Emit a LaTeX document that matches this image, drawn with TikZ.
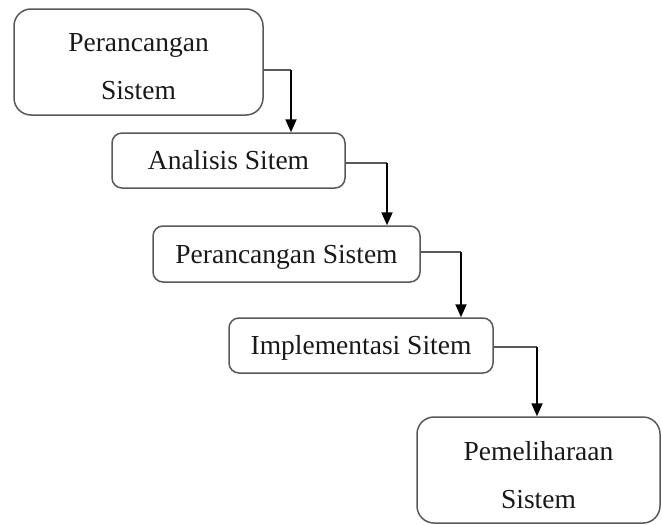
\documentclass[tikz,border=0pt]{standalone}
\usepackage{fontspec}
\setmainfont{Liberation Serif}
\usetikzlibrary{arrows.meta}
\begin{document}
\begin{tikzpicture}[x=1pt,y=-1pt,
  txt/.style={font=\fontsize{27.5}{48}\selectfont, text=black!90, align=center, inner sep=0pt},
  box/.style={draw=black!65, line width=1.5pt, rounded corners=10pt, txt,
    text height=18pt, text depth=0pt},
  bigbox/.style={draw=black!65, line width=1.5pt, rounded corners=17pt},
  lab/.style={txt, yshift=-5pt},
  hl/.style={draw=black!65, line width=1.3pt},
  vl/.style={draw=black, line width=2pt, -{Triangle[width=11pt,length=13pt]}}]
\useasboundingbox (0,0) rectangle (662,525);
\node[bigbox, minimum width=249pt, minimum height=106pt,
  label={[lab]center:Perancangan\\Sistem}] (b1) at (138.5,62) {};
\node[box, minimum width=233pt, minimum height=55pt] (b2) at (228.5,160.5) {Analisis Sitem};
\node[box, minimum width=267pt, minimum height=56pt] (b3) at (286.5,254) {Perancangan Sistem};
\node[box, minimum width=264pt, minimum height=55pt] (b4) at (361,345.5) {Implementasi Sitem};
\node[bigbox, minimum width=243pt, minimum height=106pt,
  label={[lab]center:Pemeliharaan\\Sistem}] (b5) at (538.5,470) {};
\coordinate (c1) at (291,70);
\coordinate (c2) at (387,163);
\coordinate (c3) at (461,252);
\coordinate (c4) at (537,347);
\draw[hl] (b1.east |- c1) -- (c1);
\draw[vl] (c1) -- (c1 |- b2.north);
\draw[hl] (b2.east |- c2) -- (c2);
\draw[vl] (c2) -- (c2 |- b3.north);
\draw[hl] (b3.east |- c3) -- (c3);
\draw[vl] (c3) -- (c3 |- b4.north);
\draw[hl] (b4.east |- c4) -- (c4);
\draw[vl] (c4) -- (c4 |- b5.north);
\end{tikzpicture}
\end{document}
